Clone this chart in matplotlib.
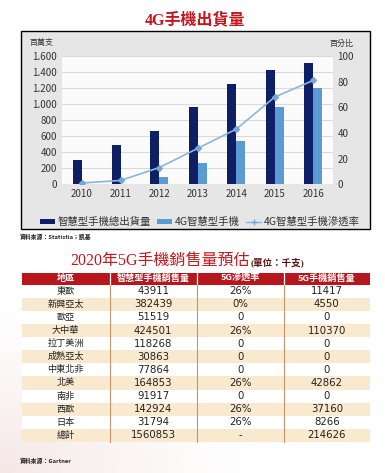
import numpy as np
import matplotlib
matplotlib.use("Agg")
import matplotlib.pyplot as plt
from matplotlib.patches import Rectangle, Patch
from matplotlib.lines import Line2D

# ---------------- data ----------------
years = ["2010", "2011", "2012", "2013", "2014", "2015", "2016"]
smartphone_total = [300, 490, 668, 968, 1248, 1425, 1508]     # 百萬支
smartphone_4g = [0, 5, 88, 262, 536, 968, 1202]                # 百萬支
penetration_4g = [1, 3, 13, 28, 43, 68, 81]                    # 百分比
left_ticks = [0, 200, 400, 600, 800, 1000, 1200, 1400, 1600]
left_ticklabels = ["0", "200", "400", "600", "800", "1.000", "1.200", "1.400", "1.600"]
right_ticks = [0, 20, 40, 60, 80, 100]
legend_labels = ["智慧型手機總出貨量", "4G智慧型手機", "4G智慧型手機滲透率"]

table_header = ["地區", "智慧型手機銷售量", "5G滲透率", "5G手機銷售量"]
regions = ["東歐", "新興亞太", "歐亞", "大中華", "拉丁美洲", "成熟亞太", "中東北非",
           "北美", "南非", "西歐", "日本", "總計"]
smartphone_sales = ["43911", "382439", "51519", "424501", "118268", "30863", "77864",
                    "164853", "91917", "142924", "31794", "1560853"]
rate_5g = ["26%", "0%", "0", "26%", "0", "0", "0", "26%", "0", "26%", "26%", "-"]
sales_5g = ["11417", "4550", "0", "110370", "0", "0", "0", "42862", "0", "37160", "8266", "214626"]

# ---------------- styles ----------------
CJK = ["Noto Sans CJK TC", "DejaVu Sans"]
SERIF = ["Liberation Serif", "Noto Sans CJK TC"]
plt.rcParams["font.family"] = CJK
RED = "#c3161d"
NAVY = "#0f1f66"
LIGHT = "#5b9bd5"
LINEC = "#8fb5da"

W, H = 385, 473
fig = plt.figure(figsize=(W / 100, H / 100), dpi=100)
fig.patch.set_facecolor("white")

# overlay axes in pixel coordinates (decorations, titles, table)
ov = fig.add_axes([0, 0, 1, 1])
ov.set_xlim(0, W)
ov.set_ylim(H, 0)
ov.axis("off")

# subtle pink background gradient at lower left
gx, gy = np.meshgrid(np.linspace(0, W, 200), np.linspace(0, H, 240))
d = np.sqrt(((gx - 0) / 260) ** 2 + ((gy - H) / 170) ** 2)
alpha = np.clip(1 - d, 0, 1) ** 1.3 * 0.55
img = np.zeros(gx.shape + (4,))
img[..., 0] = 0.93
img[..., 1] = 0.83
img[..., 2] = 0.82
img[..., 3] = alpha
ov.imshow(img, extent=(0, W, H, 0), aspect="auto", zorder=0, interpolation="bilinear")

# title 1
ov.text(195, 20, "4G手機出貨量", ha="center", va="center", fontsize=11.5,
        color=RED, fontweight="bold", family=SERIF, zorder=5)

# chart frame
ov.add_patch(Rectangle((20.7, 31), 348.8, 198, facecolor="#e6e6e6",
                       edgecolor="black", lw=1.0, zorder=1))
ov.text(41, 43, "百萬支", ha="center", va="center", fontsize=5.8, color="#333333", zorder=5)
ov.text(341, 43, "百分比", ha="center", va="center", fontsize=5.8, color="#333333", zorder=5)
ov.text(20, 237, "資料來源：Statistia；凱基", ha="left", va="center", fontsize=4.2,
        color="#222222", fontweight="bold", zorder=5)

# ---------------- chart ----------------
ax = fig.add_axes([61.7 / W, 1 - 184.3 / H, 271 / W, (184.3 - 56) / H])
ax.set_facecolor("#fbfbfb")
x = np.arange(len(years))
bw = 0.234
ax.bar(x - bw / 2, smartphone_total, width=bw, color=NAVY, zorder=3)
ax.bar(x + bw / 2, smartphone_4g, width=bw, color=LIGHT, zorder=3)
ax.set_xlim(-0.527, 6.503)
ax.set_ylim(0, 1600)
ax.set_yticks(left_ticks)
ax.set_yticklabels(left_ticklabels)
ax.set_xticks(x)
ax.set_xticklabels(years)
ax.grid(axis="y", color="#dadada", lw=0.8, zorder=0)
ax.set_axisbelow(True)
for s in ax.spines.values():
    s.set_visible(False)
ax.tick_params(axis="both", length=0, labelsize=7, colors="#333333")
ax.tick_params(axis="y", pad=3.5)
ax.tick_params(axis="x", pad=3.5)

ax2 = ax.twinx()
ax2.plot(x, penetration_4g, color=LINEC, lw=1.2, marker="D", markersize=3,
         markerfacecolor="#78a6d6", markeredgecolor="#78a6d6", zorder=4)
ax2.set_ylim(0, 100)
ax2.set_yticks(right_ticks)
for s in ax2.spines.values():
    s.set_visible(False)
ax2.tick_params(axis="y", length=0, labelsize=7, colors="#333333", pad=3.3)

handles = [Patch(facecolor=NAVY), Patch(facecolor=LIGHT),
           Line2D([0], [0], color=LINEC, lw=1.0, marker="+", markersize=4,
                  markeredgecolor="#78a6d6")]
fig.legend(handles, legend_labels, loc="center", bbox_to_anchor=(200 / W, 1 - 222 / H),
           ncol=3, frameon=False, fontsize=7.5, handlelength=1.4, handleheight=0.45,
           handletextpad=0.3, columnspacing=0.6, labelcolor="#333333")

# ---------------- table ----------------
ov.text(70.7, 261, "2020年5G手機銷售量預估", ha="left", va="center", fontsize=11.5,
        color=RED, family=SERIF, zorder=5)
ov.text(250.5, 262, "(單位：千支)", ha="left", va="center", fontsize=6.8,
        color="#5a1414", fontweight="bold", family=SERIF, zorder=5)

col_edges = [21.7, 109.7, 196.7, 283.7, 370.0]
head_top, head_bot = 272.7, 284.7
row_h = 13.1
ov.add_patch(Rectangle((col_edges[0], head_top), col_edges[-1] - col_edges[0],
                       head_bot - head_top, facecolor="#b8161d", edgecolor="none", zorder=2))
for j, h in enumerate(table_header):
    cx = (col_edges[j] + col_edges[j + 1]) / 2
    ov.text(cx, (head_top + head_bot) / 2, h, ha="center", va="center", fontsize=6.6,
            color="white", fontweight="bold", zorder=5)
for e in col_edges[1:-1]:
    ov.plot([e, e], [head_top, head_bot], color="white", lw=0.9, zorder=3)

cols = [regions, smartphone_sales, rate_5g, sales_5g]
n = len(regions)
for i in range(n):
    y0 = head_bot + i * row_h
    fc = "#f8e9cf" if i % 2 == 1 else "white"
    ov.add_patch(Rectangle((col_edges[0], y0), col_edges[-1] - col_edges[0], row_h,
                           facecolor=fc, edgecolor="none", zorder=2))
    for j, col in enumerate(cols):
        cx = (col_edges[j] + col_edges[j + 1]) / 2
        if j == 0:
            ov.text(cx, y0 + row_h / 2, col[i], ha="center", va="center", fontsize=6.6,
                    color="#222222", zorder=5)
        else:
            ov.text(cx, y0 + row_h / 2, col[i], ha="center", va="center", fontsize=7.3,
                    color="#222222", family=["DejaVu Sans"], zorder=5)
table_bot = head_bot + n * row_h
for e in col_edges[1:-1]:
    ov.plot([e, e], [head_bot, table_bot], color="#c8956c", lw=0.8, zorder=3)

ov.text(20, 461, "資料來源：Gartner", ha="left", va="center", fontsize=4.2,
        color="#222222", fontweight="bold", zorder=5)

fig.savefig("out.png", dpi=100, facecolor="white")
